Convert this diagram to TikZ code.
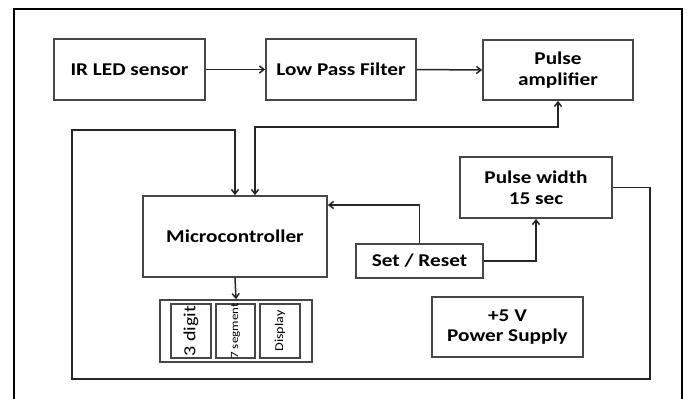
\documentclass[tikz,border=0pt]{standalone}
\usepackage{fontspec}
\setmainfont{Carlito}[FakeStretch=1.18]
\usetikzlibrary{arrows.meta,calc}
\begin{document}
\begin{tikzpicture}[x=1pt,y=-1pt,
  box/.style={draw=black!72, line width=1.7pt, fill=white, inner sep=0pt, align=center,
    font=\bfseries\fontsize{18}{20.5}\selectfont},
  dbox/.style={draw=black!72, line width=1.5pt, inner sep=0pt},
  conn/.style={draw=black!85, line width=1.5pt},
  tip/.style={-{Straight Barb[length=4.5pt,width=7pt]}},
  tipboth/.style={{Straight Barb[length=4.5pt,width=7pt]}-{Straight Barb[length=4.5pt,width=7pt]}}]
\useasboundingbox (0,0) rectangle (689,399);
% outer frame
\draw[line width=2.4pt] (14,402) -- (14,9) -- (682,9) -- (682,402);
% blocks
\node[box, minimum width=151pt, minimum height=61pt] (IR) at (129.5,69.5) {IR LED sensor};
\node[box, minimum width=150pt, minimum height=61pt] (LPF) at (341,69.5) {Low Pass Filter};
\node[box, minimum width=150pt, minimum height=60pt] (PA) at (558,70) {Pulse\\amplifier};
\node[box, minimum width=184pt, minimum height=81pt] (MC) at (235,236.5) {Microcontroller};
\node[box, minimum width=127pt, minimum height=34pt] (SR) at (419.5,261) {Set / Reset};
\node[box, minimum width=152pt, minimum height=61pt] (PW) at (536,187.5) {Pulse width\\15 sec};
\node[box, minimum width=151pt, minimum height=60pt] (PS) at (507.5,327) {+5 V\\Power Supply};
% display
\node[dbox, minimum width=152pt, minimum height=62pt] (DISP) at (236,331) {};
\node[dbox, minimum width=40pt, minimum height=54pt] (D1) at (191,331) {};
\node[dbox, minimum width=39pt, minimum height=54pt] (D2) at (235.5,331) {};
\node[dbox, minimum width=40pt, minimum height=54pt] (D3) at (280,331) {};
\node[rotate=90, font=\fontsize{17}{17}\selectfont, inner sep=0pt] (T1) at (D1.center) {3 digit};
\node[rotate=90, font=\fontsize{11}{11}\selectfont, inner sep=0pt] (T2) at (D2.center) {7 segment};
\node[rotate=90, font=\fontsize{12}{12}\selectfont, inner sep=0pt] (T3) at (D3.center) {Display};
% connectors
\draw[conn,tip] (IR.east) -- (LPF.west);
\draw[conn,tip] (LPF.east) -- (PA.west);
\coordinate (t2) at (255,127);
\draw[conn,tipboth] (PA.south) |- (t2) -- (t2 |- MC.north);
\coordinate (c1) at (650,379);
\coordinate (c2) at (72,379);
\coordinate (c3) at (72,130);
\draw[conn,tip] (PW.east) -| (c1) -- (c2) -- (c3) -- (c3 -| MC.north) -- (MC.north);
\coordinate (t3) at (419.5,205);
\draw[conn,tip] (SR.north) -- (t3) -- (t3 -| MC.east);
\draw[conn,tip] (SR.east) -| (PW.south);
\draw[conn,tip] (MC.south) -- (DISP.north);
\end{tikzpicture}
\end{document}
